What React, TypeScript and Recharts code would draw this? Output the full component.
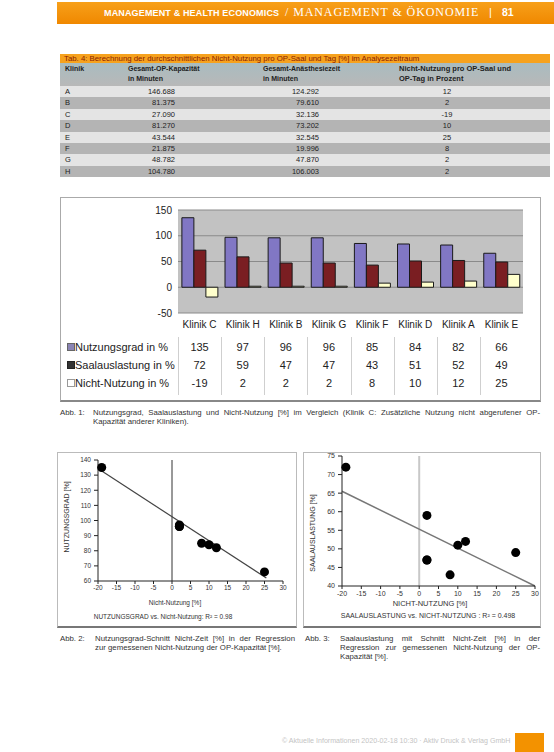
import React from 'react';
import {
  BarChart, Bar, XAxis, YAxis, CartesianGrid, ScatterChart, Scatter, ReferenceLine,
} from 'recharts';

// ---------- Data ----------
const kliniken = ['Klinik C', 'Klinik H', 'Klinik B', 'Klinik G', 'Klinik F', 'Klinik D', 'Klinik A', 'Klinik E'];
const nutzungsgrad = [135, 97, 96, 96, 85, 84, 82, 66];
const saalauslastung = [72, 59, 47, 47, 43, 51, 52, 49];
const nichtNutzung = [-19, 2, 2, 2, 8, 10, 12, 25];
const barTicks = [-50, 0, 50, 100, 150];

const tabKlinik = ['A', 'B', 'C', 'D', 'E', 'F', 'G', 'H'];
const tabKapazitaet = ['146.688', '81.375', '27.090', '81.270', '43.544', '21.875', '48.782', '104.780'];
const tabAnaesthesie = ['124.292', '79.610', '32.136', '73.202', '32.545', '19.996', '47.870', '106.003'];
const tabNichtNutzung = ['12', '2', '-19', '10', '25', '8', '2', '2'];

const scatterXTicks = [-20, -15, -10, -5, 0, 5, 10, 15, 20, 25, 30];
const nutzYTicks = [60, 70, 80, 90, 100, 110, 120, 130, 140];
const saalYTicks = [40, 45, 50, 55, 60, 65, 70, 75];
const trendNutzung = [{ x: -19.5, y: 133.5 }, { x: 25.5, y: 62 }];
const trendSaal = [{ x: -20, y: 65.5 }, { x: 30, y: 40 }];

const legendRows = [
  { label: 'Nutzungsgrad in %', values: nutzungsgrad, color: '#8a84b4', border: '#666' },
  { label: 'Saalauslastung in %', values: saalauslastung, color: '#333', border: '#222' },
  { label: 'Nicht-Nutzung in %', values: nichtNutzung, color: '#fff', border: '#999' },
];

const barData = kliniken.map((k, i) => ({
  name: k, nutz: nutzungsgrad[i], saal: saalauslastung[i], nicht: nichtNutzung[i],
}));
const scatterNutz = nichtNutzung.map((x, i) => ({ x, y: nutzungsgrad[i] }));
const scatterSaal = nichtNutzung.map((x, i) => ({ x, y: saalauslastung[i] }));

const FONT = '"Liberation Sans", Arial, sans-serif';

const abs = (left: number, top: number, extra: React.CSSProperties = {}): React.CSSProperties => ({
  position: 'absolute', left, top, ...extra,
});

const caption: React.CSSProperties = {
  fontSize: 7.8, lineHeight: '9px', color: '#333', textAlign: 'justify', textAlignLast: 'left',
} as React.CSSProperties;

export default function App() {
  const colW = 345 / 8;
  return (
    <div style={{ position: 'absolute', left: 0, top: 0, width: 554, height: 752, background: '#fff', overflow: 'hidden', fontFamily: FONT, color: '#222' }}>
      {/* Header */}
      <div style={abs(57, 2, { width: 497, height: 22, background: 'linear-gradient(#f7a01a, #f08800)' })} />
      <div style={abs(104, 7, { color: '#fff', fontSize: 9, letterSpacing: 0.15, fontWeight: 'bold', whiteSpace: 'nowrap', lineHeight: '12px' })}>
        MANAGEMENT &amp; HEALTH ECONOMICS
      </div>
      <div style={abs(285, 6, { color: '#fff', fontFamily: '"Liberation Serif", serif', fontSize: 12, letterSpacing: 0.9, whiteSpace: 'nowrap', lineHeight: '13px' })}>
        / MANAGEMENT &amp; ÖKONOMIE
      </div>
      <div style={abs(489, 6, { color: '#fff', fontSize: 11, lineHeight: '13px' })}>|</div>
      <div style={abs(502, 6, { color: '#fff', fontSize: 10.5, fontWeight: 'bold', lineHeight: '13px' })}>81</div>

      {/* Table 4 */}
      <div style={abs(60, 54, { width: 490, height: 9, background: '#f6a21e' })} />
      <div style={abs(64, 54, { fontSize: 7.8, color: '#8a1c00', lineHeight: '9px', whiteSpace: 'nowrap' })}>
        Tab. 4: Berechnung der durchschnittlichen Nicht-Nutzung pro OP-Saal und Tag [%] im Analysezeitraum
      </div>
      <div style={abs(60, 63, { width: 490, height: 23, background: 'linear-gradient(#a9bcc0, #b8b8b8)' })} />
      <div style={abs(65, 64, { fontSize: 7, fontWeight: 'bold', lineHeight: '10px' })}>Klinik</div>
      <div style={abs(128, 64, { fontSize: 7, fontWeight: 'bold', lineHeight: '10px' })}>Gesamt-OP-Kapazität<br />in Minuten</div>
      <div style={abs(263, 64, { fontSize: 7, fontWeight: 'bold', lineHeight: '10px' })}>Gesamt-Anästhesiezeit<br />in Minuten</div>
      <div style={abs(399, 64, { fontSize: 7.5, fontWeight: 'bold', lineHeight: '10px' })}>Nicht-Nutzung pro OP-Saal und<br />OP-Tag in Prozent</div>
      {tabKlinik.map((k, i) => (
        <div key={k} style={abs(60, 86 + i * 11.4, { width: 490, height: 11.4, background: i % 2 === 0 ? '#e4e4e4' : '#b4b4b4', fontSize: 7.5, lineHeight: '11.4px' })}>
          <span style={abs(5, 0)}>{k}</span>
          <span style={abs(60, 0, { width: 55, textAlign: 'right' })}>{tabKapazitaet[i]}</span>
          <span style={abs(200, 0, { width: 59, textAlign: 'right' })}>{tabAnaesthesie[i]}</span>
          <span style={abs(367, 0, { width: 40, textAlign: 'center' })}>{tabNichtNutzung[i]}</span>
        </div>
      ))}

      {/* Bar chart box */}
      <div style={abs(60, 197, { width: 479, height: 202, border: '1px solid #aaa', borderBottom: '2px solid #888' })} />
      <div style={abs(60, 197)}>
        <BarChart width={480} height={136} data={barData} margin={{ top: 13, right: 17, left: 78, bottom: 0 }} barCategoryGap="9%" barGap={0}>
          <CartesianGrid vertical={false} stroke="#8a8a8a" fill="#c2c2c2" />
          <XAxis dataKey="name" tickLine={false} axisLine={false} height={20} interval={0} tick={{ fontSize: 10, fill: '#222' }} tickMargin={2} />
          <YAxis domain={[-50, 150]} ticks={barTicks} tickLine={false} axisLine={false} width={40} tick={{ fontSize: 10, fill: '#222' }} tickMargin={0} interval={0} />
          <Bar dataKey="nutz" fill="#8177c4" stroke="#1a1a1a" strokeWidth={1} isAnimationActive={false} />
          <Bar dataKey="saal" fill="#7a1e22" stroke="#1a1a1a" strokeWidth={1} isAnimationActive={false} />
          <Bar dataKey="nicht" fill="#ffffcc" stroke="#1a1a1a" strokeWidth={1} isAnimationActive={false} />
        </BarChart>
      </div>
      {/* data table under bar chart */}
      {kliniken.map((k, i) => (
        <div key={k} style={abs(178 + i * colW, 337, { width: colW, height: 58, borderLeft: '1px solid #cfcfcf' })} />
      ))}
      {legendRows.map((row, r) => (
        <React.Fragment key={row.label}>
          <div style={abs(67, 343 + r * 18, { width: 6, height: 6, background: row.color, border: `1px solid ${row.border}` })} />
          <div style={abs(75, 341 + r * 18, { fontSize: 11, lineHeight: '12px', whiteSpace: 'nowrap' })}>{row.label}</div>
          {row.values.map((v, i) => (
            <div key={i} style={abs(178 + i * colW, 341 + r * 18, { width: colW, textAlign: 'center', fontSize: 11, lineHeight: '12px' })}>{v}</div>
          ))}
        </React.Fragment>
      ))}

      {/* Caption Abb. 1 */}
      <div style={abs(60, 408, { ...caption })}>Abb. 1:</div>
      <div style={abs(93, 408, { ...caption, width: 447 })}>
        Nutzungsgrad, Saalauslastung und Nicht-Nutzung [%] im Vergleich (Klinik C: Zusätzliche Nutzung nicht abgerufener OP-Kapazität anderer Kliniken).
      </div>

      {/* Scatter 1 */}
      <div style={abs(57, 452, { width: 238, height: 173, border: '1px solid #bbb', borderBottom: '2px solid #777' })} />
      <div style={abs(57, 452)}>
        <ScatterChart width={239} height={145} margin={{ top: 8, right: 13, left: 0, bottom: 0 }}>
          <XAxis type="number" dataKey="x" domain={[-20, 30]} ticks={scatterXTicks} interval={0} height={16} tickSize={3} tickMargin={1} stroke="#222" tick={{ fontSize: 6.5, fill: '#333' }} />
          <YAxis type="number" dataKey="y" domain={[60, 140]} ticks={nutzYTicks} interval={0} width={41} tickSize={4} tickMargin={3} stroke="#222" tick={{ fontSize: 6.5, fill: '#333' }} />
          <ReferenceLine x={0} stroke="#333" strokeWidth={1} />
          <ReferenceLine segment={trendNutzung} stroke="#444" strokeWidth={1.2} ifOverflow="visible" />
          <Scatter data={scatterNutz} fill="#000" isAnimationActive={false} />
        </ScatterChart>
      </div>
      <div style={abs(66, 517, { transform: 'translate(-50%, -50%) rotate(-90deg)', fontSize: 7, whiteSpace: 'nowrap', color: '#333' })}>NUTZUNGSGRAD [%]</div>
      <div style={abs(175, 599, { transform: 'translateX(-50%)', fontSize: 6.5, whiteSpace: 'nowrap', color: '#333' })}>Nicht-Nutzung [%]</div>
      <div style={abs(163, 613, { transform: 'translateX(-50%)', fontSize: 6.5, whiteSpace: 'nowrap', color: '#333' })}>NUTZUNGSGRAD vs. Nicht-Nutzung: R² = 0.98</div>

      {/* Scatter 2 */}
      <div style={abs(303, 452, { width: 236, height: 173, border: '1px solid #bbb', borderBottom: '2px solid #777' })} />
      <div style={abs(303, 452)}>
        <ScatterChart width={237} height={150} margin={{ top: 4, right: 5, left: 0, bottom: 0 }}>
          <XAxis type="number" dataKey="x" domain={[-20, 30]} ticks={scatterXTicks} interval={0} height={16} tickSize={3} tickMargin={2} stroke="#222" tick={{ fontSize: 7, fill: '#333' }} />
          <YAxis type="number" dataKey="y" domain={[40, 75]} ticks={saalYTicks} interval={0} width={39} tickSize={4} tickMargin={3} stroke="#222" tick={{ fontSize: 7, fill: '#333' }} />
          <ReferenceLine x={0} stroke="#c8c8c8" strokeWidth={2} />
          <ReferenceLine segment={trendSaal} stroke="#777" strokeWidth={1.5} ifOverflow="visible" />
          <Scatter data={scatterSaal} fill="#000" isAnimationActive={false} />
        </ScatterChart>
      </div>
      <div style={abs(312, 533, { transform: 'translate(-50%, -50%) rotate(-90deg)', fontSize: 7, whiteSpace: 'nowrap', color: '#333' })}>SAALAUSLASTUNG [%]</div>
      <div style={abs(430, 599, { transform: 'translateX(-50%)', fontSize: 7.5, whiteSpace: 'nowrap', color: '#333' })}>NICHT-NUTZUNG [%]</div>
      <div style={abs(428, 612, { transform: 'translateX(-50%)', fontSize: 7, whiteSpace: 'nowrap', color: '#333' })}>SAALAUSLASTUNG vs. NICHT-NUTZUNG : R² = 0.498</div>

      {/* Captions Abb. 2 / Abb. 3 */}
      <div style={abs(60, 634, { ...caption })}>Abb. 2:</div>
      <div style={abs(95, 634, { ...caption, width: 200 })}>
        Nutzungsgrad-Schnitt Nicht-Zeit [%] in der Regression zur gemessenen Nicht-Nutzung der OP-Kapazität [%].
      </div>
      <div style={abs(305, 634, { ...caption })}>Abb. 3:</div>
      <div style={abs(340, 634, { ...caption, width: 200 })}>
        Saalauslastung mit Schnitt Nicht-Zeit [%] in der Regression zur gemessenen Nicht-Nutzung der OP-Kapazität [%].
      </div>

      {/* Footer */}
      <div style={abs(282, 737, { fontSize: 7.1, color: '#c4c4c4', whiteSpace: 'nowrap' })}>© Aktuelle Informationen 2020-02-18 10:30 · Aktiv Druck &amp; Verlag GmbH</div>
      <div style={abs(515, 733, { width: 29, height: 19, background: '#f39200' })} />
    </div>
  );
}
